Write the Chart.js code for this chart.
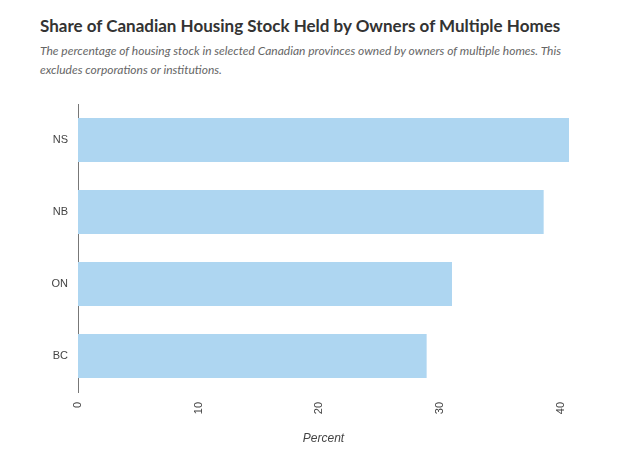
<!DOCTYPE html>
<html lang="en">
<head>
    <meta charset="UTF-8">
    <title>Share of Canadian Housing Stock Held by Owners of Multiple Homes</title>
    <script src="https://cdn.jsdelivr.net/npm/chart.js"></script>
    <style>
        body { margin: 0; background: #fff; }
        #wrap { position: relative; width: 619px; height: 450px; overflow: hidden; }
        h1 { position: absolute; left: 40px; top: 15px; margin: 0; font: 700 17px Lato, sans-serif; color: #333; white-space: nowrap; }
        p.sub { position: absolute; left: 40px; top: 41px; width: 545px; margin: 0; font: italic 12px/19px Lato, sans-serif; color: #666; }
        canvas { position: absolute; left: 0; top: 0; }
    </style>
</head>
<body>
<div id="wrap">
    <h1>Share of Canadian Housing Stock Held by Owners of Multiple Homes</h1>
    <p class="sub">The percentage of housing stock in selected Canadian provinces owned by owners of multiple homes. This excludes corporations or institutions.</p>
    <canvas id="chart" width="619" height="450"></canvas>
</div>

<script>
    // provinces and their share (percent)
    const provinces = ['NS', 'NB', 'ON', 'BC'];
    const shares = [40.7, 38.6, 31.0, 28.9];
    const xTicks = [0, 10, 20, 30, 40];

    const ctx = document.getElementById('chart').getContext('2d');
    new Chart(ctx, {
        type: 'bar',
        data: {
            labels: provinces,
            datasets: [{
                data: shares,
                backgroundColor: '#aed6f1',
                categoryPercentage: 1,
                barPercentage: 0.61
            }]
        },
        options: {
            indexAxis: 'y',
            responsive: false,
            animation: false,
            layout: { padding: { top: 104, right: 50, left: 0, bottom: 0 } },
            plugins: { legend: { display: false }, tooltip: { enabled: false } },
            scales: {
                x: {
                    min: 0,
                    max: Math.max(...shares),
                    grid: { display: false, drawTicks: false },
                    border: { display: false },
                    ticks: {
                        minRotation: 90,
                        maxRotation: 90,
                        padding: 10,
                        color: '#444',
                        font: { family: 'Liberation Sans, Arial', size: 11 }
                    },
                    // keep the round ticks only, not the data max
                    afterBuildTicks: function(scale) {
                        scale.ticks = xTicks.map(v => ({ value: v }));
                    },
                    afterFit: function(scale) { scale.height = 58; },
                    title: {
                        display: true,
                        text: 'Percent',
                        color: '#444',
                        padding: { top: 0, bottom: 4 },
                        font: { family: 'Liberation Sans, Arial', size: 12, style: 'italic' }
                    }
                },
                y: {
                    grid: { display: false, drawTicks: false },
                    border: { display: true, color: '#777', width: 1 },
                    ticks: {
                        padding: 10,
                        color: '#444',
                        font: { family: 'Liberation Sans, Arial', size: 11 }
                    },
                    afterFit: function(scale) { scale.width = 78; }
                }
            }
        }
    });
</script>
</body>
</html>
